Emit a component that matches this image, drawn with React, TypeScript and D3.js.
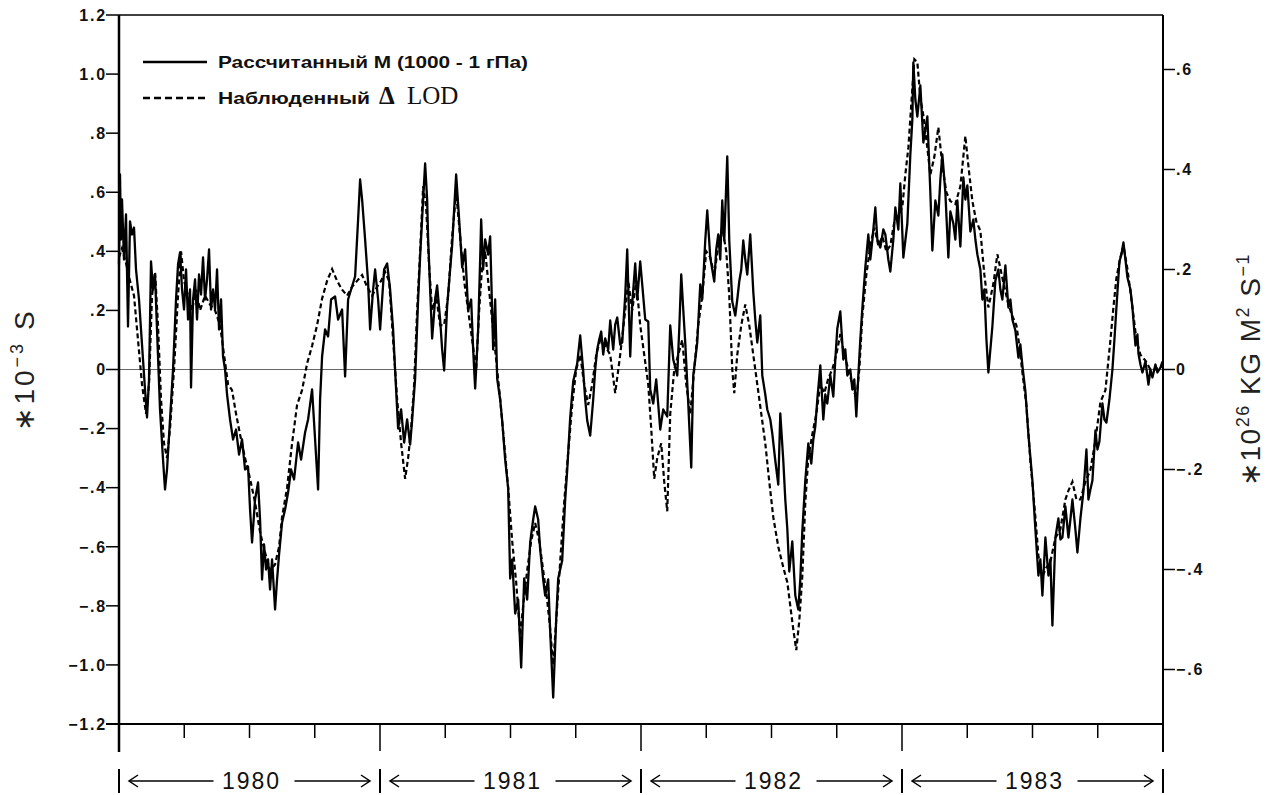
import React from "react";
import * as d3 from "d3";

// year blocks shown under the time axis
const years = ["1980", "1981", "1982", "1983"];

// left axis (10^-3 s) and right axis (10^26 kg m^2 s^-1) ticks
const leftTicks = [1.2, 1.0, 0.8, 0.6, 0.4, 0.2, 0, -0.2, -0.4, -0.6, -0.8, -1.0, -1.2];
const leftTickLabels = ["1.2", "1.0", ".8", ".6", ".4", ".2", "0", "\u2212.2", "\u2212.4", "\u2212.6", "\u2212.8", "\u22121.0", "\u22121.2"];
const rightTicks = [0.6, 0.4, 0.2, 0, -0.2, -0.4, -0.6];
const rightTickLabels = [".6", ".4", ".2", "0", "\u2212.2", "\u2212.4", "\u2212.6"];

// computed M (1000 - 1 hPa), [weeks since 1 Jan 1980, 10^26 kg m^2 s^-1]
const calcM: [number, number][] = [
  [0, 0.21], [0.2, 0.39], [0.4, 0.26], [0.6, 0.34], [1.0, 0.22], [1.4, 0.31], [1.8, 0.086], [2.2, 0.296],
  [2.6, 0.27], [3.0, 0.284], [3.4, 0.2], [4.0, 0.14], [4.6, 0.05], [5.2, -0.04], [5.6, -0.096], [6.0, -0.02],
  [6.4, 0.216], [6.8, 0.16], [7.2, 0.19], [7.6, 0.08], [8.2, -0.08], [8.8, -0.18], [9.2, -0.24], [9.6, -0.2],
  [10.2, -0.1], [10.8, 0], [11.4, 0.14], [11.8, 0.21], [12.2, 0.234], [12.6, 0.16], [13.0, 0.12], [13.4, 0.2],
  [13.8, 0.1], [14.2, 0.16], [14.4, -0.036], [14.8, 0.14], [15.2, 0.18], [15.6, 0.1], [16.0, 0.19], [16.4, 0.15],
  [16.8, 0.224], [17.2, 0.14], [17.6, 0.18], [18.0, 0.24], [18.4, 0.12], [18.8, 0.16], [19.2, 0.12], [19.6, 0.2],
  [20.0, 0.08], [20.4, 0.14], [20.8, 0.026], [21.2, 0], [21.6, -0.05], [22.2, -0.1], [22.8, -0.14], [23.4, -0.12],
  [24.0, -0.17], [24.6, -0.14], [25.2, -0.2], [25.8, -0.194], [26.2, -0.28], [26.6, -0.346], [27.2, -0.26], [27.8, -0.226],
  [28.2, -0.3], [28.6, -0.42], [29.0, -0.35], [29.4, -0.4], [29.8, -0.38], [30.2, -0.44], [30.6, -0.38], [31.2, -0.48],
  [31.6, -0.42], [32.0, -0.37], [32.6, -0.306], [33.2, -0.28], [33.8, -0.246], [34.4, -0.2], [35.0, -0.22], [35.8, -0.146],
  [36.4, -0.18], [37.2, -0.126], [37.8, -0.1], [38.6, -0.04], [39.2, -0.14], [39.8, -0.24], [40.2, -0.06], [40.6, 0.026],
  [41.2, 0.08], [41.8, 0.066], [42.4, 0.14], [43.2, 0.146], [43.8, 0.1], [44.6, 0.12], [45.2, -0.014], [45.8, 0.14],
  [46.4, 0.16], [47.2, 0.186], [47.8, 0.3], [48.2, 0.38], [48.6, 0.34], [49.2, 0.26], [49.8, 0.174], [50.2, 0.08],
  [50.8, 0.16], [51.2, 0.2], [51.8, 0.14], [52.2, 0.08], [52.6, 0.14], [53.0, 0.2], [53.6, 0.212], [54.2, 0.16],
  [54.8, 0.08], [55.2, -0.002], [55.8, -0.118], [56.4, -0.08], [57.0, -0.146], [57.6, -0.1], [58.2, -0.15], [58.6, -0.102],
  [59.2, -0.018], [59.8, 0.14], [60.2, 0.226], [60.8, 0.34], [61.2, 0.412], [61.6, 0.34], [61.8, 0.262], [62.2, 0.16],
  [62.6, 0.062], [63.2, 0.14], [63.6, 0.168], [64.2, 0.1], [64.6, 0.04], [65.0, -0.002], [65.6, 0.126], [66.2, 0.2],
  [66.6, 0.248], [67.0, 0.32], [67.4, 0.39], [68.0, 0.3], [68.6, 0.204], [69.2, 0.24], [69.8, 0.118], [70.4, 0.14],
  [70.8, 0.04], [71.2, -0.038], [71.8, 0.08], [72.2, 0.22], [72.4, 0.3], [72.8, 0.2], [73.2, 0.26], [73.8, 0.23],
  [74.2, 0.266], [74.8, 0.04], [75.2, 0.14], [75.6, -0.018], [76.2, -0.06], [76.6, -0.102], [77.2, -0.18], [77.8, -0.238],
  [78.2, -0.418], [78.6, -0.38], [79.2, -0.488], [79.8, -0.46], [80.4, -0.596], [81.0, -0.418], [81.6, -0.46], [82.2, -0.346],
  [82.8, -0.3], [83.2, -0.274], [83.8, -0.3], [84.2, -0.36], [84.8, -0.42], [85.2, -0.452], [85.8, -0.42], [86.2, -0.524],
  [86.8, -0.656], [87.4, -0.5], [87.8, -0.418], [88.6, -0.382], [89.2, -0.26], [89.6, -0.202], [90.2, -0.096], [90.8, -0.024],
  [91.6, 0.012], [92.2, 0.068], [92.8, -0.002], [93.2, -0.06], [93.6, -0.102], [94.2, -0.132], [94.8, -0.06], [95.2, 0],
  [95.6, 0.04], [96.0, 0.06], [96.4, 0.076], [96.8, 0.03], [97.2, 0.062], [97.8, 0.04], [98.2, 0.098], [98.8, 0.04],
  [99.2, 0.09], [99.6, 0.104], [100.2, 0.05], [100.6, 0.054], [101.2, 0.148], [101.6, 0.24], [102.2, 0.026], [102.6, 0.132],
  [103.2, 0.212], [103.6, 0.14], [104.2, 0.216], [104.6, 0.17], [105.2, 0.1], [105.8, 0.096], [106.2, -0.04], [106.8, -0.068],
  [107.4, -0.02], [108.2, -0.12], [108.8, -0.08], [109.6, -0.094], [110.2, 0.088], [110.8, 0.02], [111.6, -0.012], [112.0, 0.08],
  [112.4, 0.19], [112.8, 0.12], [113.2, 0.054], [113.8, -0.068], [114.4, -0.196], [114.8, -0.012], [115.2, 0.02], [115.6, 0.054],
  [116.2, 0.17], [116.6, 0.14], [117.2, 0.258], [117.6, 0.318], [118.2, 0.224], [118.6, 0.2], [119.0, 0.176], [119.4, 0.24],
  [119.8, 0.27], [120.2, 0.22], [120.6, 0.338], [121.0, 0.258], [121.6, 0.426], [122.0, 0.258], [122.6, 0.136], [123.2, 0.108],
  [123.6, 0.14], [124.0, 0.176], [124.4, 0.2], [124.8, 0.258], [125.2, 0.22], [125.6, 0.19], [126.2, 0.27], [126.8, 0.156],
  [127.2, 0.1], [127.6, 0.054], [128.2, 0.108], [128.6, -0.012], [129.2, -0.05], [129.6, -0.08], [130.2, -0.1], [130.6, -0.128],
  [131.2, -0.182], [131.8, -0.23], [132.2, -0.088], [132.8, -0.182], [133.2, -0.26], [133.6, -0.318], [134.0, -0.404], [134.6, -0.344],
  [135.2, -0.452], [135.8, -0.48], [136.2, -0.42], [136.6, -0.324], [137.2, -0.222], [137.8, -0.148], [138.4, -0.188], [138.8, -0.14],
  [139.2, -0.114], [139.6, -0.06], [140.2, 0.008], [140.8, -0.1], [141.2, -0.05], [141.6, -0.068], [142.2, -0.012], [142.8, -0.054],
  [143.2, 0.02], [143.6, 0.082], [144.2, 0.116], [144.8, 0.02], [145.2, 0.04], [145.6, -0.012], [146.2, 0], [146.6, -0.04],
  [147.0, -0.02], [147.4, -0.094], [147.8, -0.012], [148.2, 0.06], [148.6, 0.122], [149.2, 0.204], [149.8, 0.27], [150.2, 0.22],
  [150.6, 0.258], [151.2, 0.324], [151.6, 0.26], [152.2, 0.244], [152.8, 0.28], [153.2, 0.27], [153.8, 0.22], [154.2, 0.196],
  [154.8, 0.26], [155.2, 0.324], [155.8, 0.28], [156.2, 0.372], [156.8, 0.224], [157.6, 0.292], [158.2, 0.43], [158.6, 0.5],
  [158.8, 0.614], [159.2, 0.54], [159.6, 0.506], [160.2, 0.568], [160.8, 0.454], [161.2, 0.48], [161.6, 0.506], [162.2, 0.354],
  [162.6, 0.238], [163.2, 0.338], [163.8, 0.308], [164.2, 0.38], [164.6, 0.43], [165.2, 0.354], [165.8, 0.224], [166.2, 0.316],
  [166.8, 0.292], [167.2, 0.26], [167.6, 0.338], [168.2, 0.246], [168.8, 0.384], [169.2, 0.34], [169.6, 0.368], [170.2, 0.276],
  [170.8, 0.3], [171.2, 0.26], [171.6, 0.23], [172.2, 0.2], [172.6, 0.14], [173.0, 0.16], [173.4, 0.062], [173.8, -0.006],
  [174.2, 0.04], [174.6, 0.086], [175.2, 0.178], [175.8, 0.2], [176.2, 0.16], [176.6, 0.14], [177.2, 0.208], [177.8, 0.124],
  [178.2, 0.14], [178.6, 0.1], [179.2, 0.078], [179.8, 0.024], [180.2, 0.05], [180.6, 0.008], [181.2, -0.044], [181.8, -0.13],
  [182.6, -0.222], [183.2, -0.32], [183.8, -0.412], [184.2, -0.38], [184.6, -0.452], [185.2, -0.336], [185.8, -0.412], [186.2, -0.38],
  [186.6, -0.512], [187.2, -0.336], [187.8, -0.298], [188.2, -0.34], [188.6, -0.336], [189.2, -0.274], [189.8, -0.336], [190.2, -0.3],
  [190.6, -0.26], [191.2, -0.32], [191.6, -0.366], [192.2, -0.298], [192.8, -0.244], [193.4, -0.16], [193.8, -0.26], [194.2, -0.24],
  [194.6, -0.222], [195.2, -0.122], [195.6, -0.16], [196.0, -0.144], [196.6, -0.068], [197.0, -0.1], [197.4, -0.106], [198.0, -0.06],
  [198.6, 0], [199.0, 0.06], [199.4, 0.124], [200.0, 0.216], [200.4, 0.23], [200.8, 0.254], [201.2, 0.22], [201.6, 0.184],
  [202.2, 0.16], [202.6, 0.124], [203.2, 0.048], [203.6, 0.07], [203.8, 0.032], [204.2, 0.01], [204.6, -0.006], [205.2, 0.016],
  [205.8, -0.03], [206.2, 0], [206.6, -0.016], [207.2, 0.01], [207.6, -0.006], [208.2, 0.004], [208.6, 0.016],
];

// observed delta LOD, [weeks since 1 Jan 1980, 10^-3 s]
const obsLOD: [number, number][] = [
  [0, 0.38], [0.6, 0.41], [1.4, 0.36], [2.2, 0.3], [3.0, 0.25], [3.8, 0.1], [4.6, -0.05], [5.4, -0.15],
  [6.0, -0.05], [6.6, 0.25], [7.2, 0.33], [7.8, 0.15], [8.4, -0.1], [9.0, -0.25], [9.6, -0.3], [10.2, -0.2],
  [11.0, 0], [11.8, 0.25], [12.4, 0.4], [13.0, 0.3], [13.8, 0.25], [14.6, 0.2], [15.4, 0.27], [16.2, 0.2],
  [17.2, 0.25], [18.2, 0.22], [19.2, 0.2], [20.2, 0.15], [21.0, 0.05], [21.8, -0.05], [22.6, -0.07], [23.4, -0.15],
  [24.2, -0.22], [25.2, -0.3], [26.2, -0.37], [27.2, -0.45], [28.2, -0.55], [29.2, -0.62], [30.2, -0.68], [31.2, -0.66],
  [32.0, -0.6], [32.6, -0.5], [33.6, -0.4], [34.6, -0.25], [35.6, -0.12], [36.6, -0.07], [37.6, 0.02], [38.6, 0.08],
  [39.6, 0.15], [40.6, 0.24], [41.6, 0.3], [42.6, 0.34], [43.6, 0.3], [44.6, 0.27], [45.6, 0.25], [46.6, 0.28],
  [47.6, 0.3], [48.6, 0.32], [49.6, 0.28], [50.6, 0.25], [51.6, 0.28], [52.4, 0.3], [53.2, 0.33], [54.0, 0.3],
  [54.8, 0.1], [55.6, -0.1], [56.4, -0.25], [57.2, -0.37], [57.8, -0.3], [58.4, -0.2], [59.0, -0.05], [59.6, 0.2],
  [60.2, 0.4], [60.8, 0.62], [61.4, 0.55], [62.0, 0.35], [62.6, 0.2], [63.4, 0.25], [64.2, 0.15], [65.0, 0.15],
  [65.8, 0.25], [66.6, 0.45], [67.4, 0.6], [68.2, 0.45], [69.0, 0.3], [69.8, 0.2], [70.6, 0.1], [71.4, 0],
  [72.0, 0.2], [72.6, 0.35], [73.2, 0.4], [73.8, 0.3], [74.4, 0.2], [75.0, 0.1], [75.6, 0], [76.2, -0.1],
  [77.0, -0.25], [77.8, -0.4], [78.6, -0.58], [79.4, -0.72], [80.2, -0.9], [80.8, -0.8], [81.6, -0.68], [82.4, -0.58],
  [83.2, -0.52], [84.0, -0.58], [84.8, -0.68], [85.6, -0.78], [86.2, -0.88], [86.8, -1.0], [87.4, -0.85], [88.2, -0.65],
  [89.0, -0.45], [89.8, -0.28], [90.6, -0.12], [91.4, 0], [92.2, 0.05], [93.0, -0.05], [93.8, -0.12], [94.6, -0.05],
  [95.4, 0.05], [96.2, 0.1], [97.2, 0.08], [98.2, 0.05], [99.2, -0.08], [100.2, 0.05], [101.2, 0.2], [101.8, 0.3],
  [102.6, 0.2], [103.4, 0.3], [104.2, 0.15], [105.0, 0.05], [105.8, -0.05], [106.4, -0.2], [107.0, -0.37], [107.6, -0.3],
  [108.4, -0.25], [109.0, -0.38], [109.6, -0.48], [110.2, -0.15], [111.0, 0], [111.8, 0.05], [112.6, 0.1], [113.4, -0.05],
  [114.2, -0.15], [115.0, 0], [115.8, 0.15], [116.6, 0.25], [117.4, 0.4], [118.2, 0.38], [119.0, 0.32], [119.8, 0.42],
  [120.6, 0.48], [121.4, 0.4], [122.0, 0.25], [122.6, 0], [123.0, -0.08], [123.6, 0.05], [124.4, 0.15], [125.2, 0.22],
  [126.0, 0.15], [126.8, 0.05], [127.6, -0.05], [128.4, -0.15], [129.2, -0.25], [130.0, -0.38], [130.8, -0.5], [131.8, -0.6],
  [132.8, -0.67], [133.6, -0.72], [134.2, -0.8], [134.8, -0.88], [135.4, -0.95], [136.0, -0.85], [136.6, -0.7], [137.2, -0.45],
  [137.8, -0.3], [138.6, -0.22], [139.4, -0.15], [140.2, -0.05], [141.0, -0.08], [141.8, -0.03], [142.6, 0], [143.4, 0.05],
  [144.2, 0.12], [145.0, 0.05], [145.8, 0], [146.6, -0.05], [147.4, -0.1], [148.0, 0], [148.6, 0.18], [149.4, 0.32],
  [150.2, 0.42], [151.0, 0.48], [151.8, 0.42], [152.6, 0.45], [153.4, 0.4], [154.2, 0.42], [155.0, 0.5], [155.8, 0.52],
  [156.6, 0.55], [157.2, 0.66], [157.8, 0.75], [158.4, 0.9], [159.0, 1.05], [159.6, 1.04], [160.2, 0.92], [160.8, 0.86],
  [161.6, 0.75], [162.2, 0.66], [163.0, 0.72], [163.8, 0.82], [164.6, 0.69], [165.4, 0.6], [166.2, 0.57], [167.2, 0.56],
  [168.2, 0.62], [169.2, 0.79], [169.8, 0.69], [170.6, 0.57], [171.4, 0.5], [172.2, 0.47], [173.0, 0.32], [173.8, 0.21],
  [174.8, 0.29], [175.6, 0.39], [176.6, 0.31], [177.8, 0.22], [178.6, 0.18], [179.4, 0.15], [180.0, 0.08], [180.6, -0.01],
  [181.4, -0.12], [182.2, -0.31], [183.2, -0.5], [183.8, -0.63], [184.6, -0.7], [185.4, -0.67], [186.2, -0.65], [187.2, -0.57],
  [188.2, -0.54], [189.2, -0.44], [189.8, -0.41], [190.6, -0.38], [191.4, -0.44], [192.2, -0.44], [193.2, -0.38], [194.2, -0.34],
  [195.2, -0.24], [196.2, -0.11], [197.2, -0.07], [198.2, 0.1], [198.8, 0.21], [199.4, 0.31], [200.2, 0.38], [200.8, 0.42],
  [201.6, 0.34], [202.6, 0.21], [203.4, 0.1], [204.2, 0.05], [205.2, 0.03], [206.2, 0], [207.2, 0], [208.6, 0.01],
];

const legendCalc = "Рассчитанный М (1000 - 1 гПа)";
const legendObs = "Наблюденный";

export default function App() {
  const W = 1266;
  const H = 795;
  const left = 119;
  const right = 1163;
  const top = 15;
  const bottom = 724;

  const x = d3.scaleLinear().domain([0, 208.71]).range([left, right]);
  const xYear = d3.scaleLinear().domain([1980, 1984]).range([left, right]);
  const yL = d3.scaleLinear().domain([-1.2, 1.2]).range([bottom, top]);
  const yR = d3.scaleLinear().domain([-0.709, 0.709]).range([bottom, top]);

  const lineM = d3.line<[number, number]>().x((d) => x(d[0])).y((d) => yR(d[1]));
  const lineLOD = d3.line<[number, number]>().x((d) => x(d[0])).y((d) => yL(d[1]));

  const quarters = d3.range(0, 17).map((i) => 1980 + i / 4);
  const tickFont = "'Liberation Sans', Arial, sans-serif";

  return (
    <svg width={W} height={H} style={{ position: "absolute", left: 0, top: 0, background: "#fff" }}>
      <rect x={0} y={0} width={W} height={H} fill="#fff" />

      {/* zero line */}
      <line x1={left} x2={right} y1={yL(0)} y2={yL(0)} stroke="#666" strokeWidth={1.2} />

      {/* series */}
      <path d={lineLOD(obsLOD) || ""} fill="none" stroke="#000" strokeWidth={2.2} strokeDasharray="5,3" />
      <path d={lineM(calcM) || ""} fill="none" stroke="#000" strokeWidth={2.3} strokeLinejoin="round" />

      {/* frame */}
      <line x1={left} x2={right} y1={top} y2={top} stroke="#000" strokeWidth={1.5} />
      <line x1={left} x2={left} y1={top} y2={752} stroke="#000" strokeWidth={2.5} />
      <line x1={right} x2={right} y1={top} y2={752} stroke="#000" strokeWidth={2} />
      <line x1={106} x2={right} y1={bottom} y2={bottom} stroke="#000" strokeWidth={2} />

      {/* left axis */}
      {leftTicks.map((t, i) => (
        <g key={"l" + i}>
          <line x1={left - 13} x2={left} y1={yL(t)} y2={yL(t)} stroke="#000" strokeWidth={1.5} />
          <text x={left - 12} y={yL(t)} dy="0.36em" textAnchor="end" fontFamily={tickFont} fontWeight="bold" fontSize={16} letterSpacing={1.8} fill="#111">
            {leftTickLabels[i]}
          </text>
        </g>
      ))}

      {/* right axis */}
      {rightTicks.map((t, i) => (
        <g key={"r" + i}>
          <line x1={right} x2={right + 12} y1={yR(t)} y2={yR(t)} stroke="#000" strokeWidth={1.5} />
          <text x={right + 13} y={yR(t)} dy="0.36em" textAnchor="start" fontFamily={tickFont} fontWeight="bold" fontSize={16} letterSpacing={1.8} fill="#111">
            {rightTickLabels[i]}
          </text>
        </g>
      ))}

      {/* bottom time ticks */}
      {quarters.map((q, i) => (
        <line key={"q" + i} x1={xYear(q)} x2={xYear(q)} y1={bottom} y2={i % 4 === 0 ? 751 : 738} stroke="#000" strokeWidth={1.5} />
      ))}

      {/* year spans */}
      {years.map((yr, i) => {
        const x0 = xYear(1980 + i);
        const x1 = xYear(1981 + i);
        const cx = (x0 + x1) / 2;
        return (
          <g key={yr} stroke="#000" strokeWidth={1.5} fill="none">
            <line x1={x0} x2={x0} y1={769} y2={793} strokeWidth={2} />
            <line x1={x0 + 10} x2={cx - 36} y1={781} y2={781} />
            <path d={`M${x0 + 19},775 L${x0 + 10},781 L${x0 + 19},787`} />
            <line x1={cx + 45} x2={x1 - 10} y1={781} y2={781} />
            <path d={`M${x1 - 19},775 L${x1 - 10},781 L${x1 - 19},787`} />
            <text x={cx + 2} y={789} textAnchor="middle" stroke="none" fill="#111" fontFamily={tickFont} fontSize={23} letterSpacing={2}>
              {yr}
            </text>
          </g>
        );
      })}
      <line x1={right} x2={right} y1={769} y2={793} stroke="#000" strokeWidth={2} />

      {/* axis titles */}
      <text transform={`translate(34,${yL(0)}) rotate(-90)`} textAnchor="middle" fontFamily={tickFont} fontSize={28} letterSpacing={3} fill="#222">
        <tspan>{"\u221710"}</tspan>
        <tspan dy={-11} fontSize={18}>{"\u22123"}</tspan>
        <tspan dy={11}>{" S"}</tspan>
      </text>
      <text transform={`translate(1260,${yL(0)}) rotate(-90)`} textAnchor="middle" fontFamily={tickFont} fontSize={28} letterSpacing={1.5} fill="#222">
        <tspan>{"\u221710"}</tspan>
        <tspan dy={-11} fontSize={18}>26</tspan>
        <tspan dy={11}>{" KG M"}</tspan>
        <tspan dy={-11} fontSize={18}>2</tspan>
        <tspan dy={11}>{" S"}</tspan>
        <tspan dy={-11} fontSize={18}>{"\u22121"}</tspan>
      </text>

      {/* legend */}
      <line x1={143} x2={207} y1={62} y2={62} stroke="#000" strokeWidth={2.5} />
      <text x={218} y={68} fontFamily={tickFont} fontWeight="bold" fontSize={17} textLength={310} lengthAdjust="spacingAndGlyphs" fill="#111">
        {legendCalc}
      </text>
      <line x1={143} x2={207} y1={98} y2={98} stroke="#000" strokeWidth={2.5} strokeDasharray="7,4" />
      <text x={218} y={104} fontFamily={tickFont} fontWeight="bold" fontSize={17} textLength={152} lengthAdjust="spacingAndGlyphs" fill="#111">
        {legendObs}
      </text>
      <text x={379} y={104} fontFamily="'Liberation Serif', 'Times New Roman', serif" fontSize={25} fill="#111">
        <tspan fontWeight="bold">{"\u0394"}</tspan>
        <tspan x={407}>LOD</tspan>
      </text>
    </svg>
  );
}
